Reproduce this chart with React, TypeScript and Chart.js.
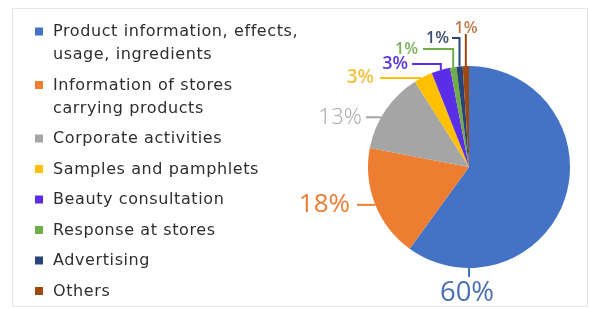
import React, { useEffect, useRef } from "react";
import { Chart, registerables } from "chart.js";

Chart.register(...registerables);

const categories = [
  "Product information, effects,\nusage, ingredients",
  "Information of stores\ncarrying products",
  "Corporate activities",
  "Samples and pamphlets",
  "Beauty consultation",
  "Response at stores",
  "Advertising",
  "Others",
];
const shares = [60, 18, 13, 3, 3, 1, 1, 1];
const sliceColors = ["#4472C4", "#ED7D31", "#A5A5A5", "#FFC000", "#5A2DE6", "#70AD47", "#264478", "#9E480E"];
const labelColors = ["#4A6FB5", "#EA7D33", "#A8A8A8", "#F6C143", "#5B3BD8", "#7BB35A", "#3B4E6E", "#C07A4C"];

// label layout: anchor angle (deg clockwise from top, null = slice middle),
// elbow y offset from centre (vertical segment), line end x offset, text placement
type Lay = { angle: number | null; elbowY: number | null; endX: number | null; tx: number; ty: number | null; align: CanvasTextAlign; size: number; weight: string };
const LAYOUT: Lay[] = [
  { angle: 180, elbowY: 110, endX: null, tx: -2, ty: 126, align: "center", size: 27.5, weight: "400" },
  { angle: 248, elbowY: null, endX: -112, tx: -119, ty: null, align: "right", size: 26, weight: "400" },
  { angle: 299.5, elbowY: null, endX: -103, tx: -107, ty: null, align: "right", size: 22.5, weight: "300" },
  { angle: 331.7, elbowY: null, endX: -89, tx: -95, ty: null, align: "right", size: 19, weight: "600" },
  { angle: null, elbowY: -103, endX: -57, tx: -61, ty: null, align: "right", size: 18, weight: "600" },
  { angle: null, elbowY: -118, endX: -46, tx: -51, ty: null, align: "right", size: 16, weight: "600" },
  { angle: null, elbowY: -129, endX: -17, tx: -20, ty: null, align: "right", size: 16, weight: "600" },
  { angle: null, elbowY: -133, endX: null, tx: -3, ty: -139, align: "center", size: 16, weight: "600" },
];

const framePlugin = {
  id: "frame",
  beforeDraw(chart: any) {
    const ctx = chart.ctx;
    ctx.save();
    ctx.strokeStyle = "#E6E6E6";
    ctx.lineWidth = 1;
    ctx.strokeRect(12.5, 8.5, 575, 298);
    ctx.restore();
  },
};

const legendPlugin = {
  id: "customLegend",
  afterDraw(chart: any) {
    const ctx = chart.ctx;
    ctx.save();
    ctx.font = '16px "DejaVu Sans"';
    (ctx as any).letterSpacing = "0.6px";
    ctx.textBaseline = "middle";
    ctx.textAlign = "left";
    let y = 32;
    categories.forEach((c, i) => {
      const lines = c.split("\n");
      ctx.fillStyle = sliceColors[i];
      ctx.fillRect(35, y - 4.5, 8, 8);
      ctx.fillStyle = "#2E2E2E";
      lines.forEach((ln, k) => ctx.fillText(ln, 53, y + k * 23));
      y += 23 * (lines.length - 1) + 30.5;
    });
    ctx.restore();
  },
};

const labelPlugin = {
  id: "pieLabels",
  afterDraw(chart: any) {
    const ctx = chart.ctx;
    const meta = chart.getDatasetMeta(0);
    ctx.save();
    meta.data.forEach((arc: any, i: number) => {
      const p = arc.getProps(["x", "y", "startAngle", "endAngle", "outerRadius"], true);
      const cx = p.x, cy = p.y, r = p.outerRadius;
      const L = LAYOUT[i];
      let a: number;
      if (L.angle === null) a = (p.startAngle + p.endAngle) / 2;
      else a = (L.angle * Math.PI) / 180 - Math.PI / 2;
      const ax = cx + r * Math.cos(a);
      const ay = cy + r * Math.sin(a);
      ctx.strokeStyle = sliceColors[i];
      ctx.lineWidth = 2;
      ctx.beginPath();
      ctx.moveTo(ax, ay);
      let lx = ax, ly = ay;
      if (L.elbowY !== null) {
        ly = cy + L.elbowY;
        ctx.lineTo(lx, ly);
      }
      if (L.endX !== null) {
        lx = cx + L.endX;
        ctx.lineTo(lx, ly);
      }
      ctx.stroke();
      const total = shares.reduce((s, v) => s + v, 0);
      const txt = Math.round((shares[i] / total) * 100) + "%";
      ctx.fillStyle = labelColors[i];
      ctx.font = `${L.weight} ${L.size}px "Open Sans"`;
      ctx.textAlign = L.align;
      ctx.textBaseline = "middle";
      ctx.fillText(txt, cx + L.tx, L.ty !== null ? cy + L.ty : ly);
    });
    ctx.restore();
  },
};

export default function App() {
  const ref = useRef<HTMLCanvasElement | null>(null);
  useEffect(() => {
    if (!ref.current) return;
    const chart = new Chart(ref.current, {
      type: "pie",
      data: {
        labels: categories,
        datasets: [
          {
            data: shares,
            backgroundColor: sliceColors,
            borderWidth: 0,
          },
        ],
      },
      options: {
        responsive: false,
        animation: false,
        devicePixelRatio: 1,
        layout: { padding: { left: 368, right: 20, top: 66, bottom: 41 } },
        plugins: {
          legend: { display: false },
          tooltip: { enabled: false },
        },
      },
      plugins: [framePlugin, legendPlugin, labelPlugin],
    });
    return () => chart.destroy();
  }, []);
  return (
    <div style={{ position: "fixed", left: 0, top: 0, width: 590, height: 309, background: "#fff" }}>
      <canvas ref={ref} width={590} height={309} style={{ display: "block" }} />
    </div>
  );
}
